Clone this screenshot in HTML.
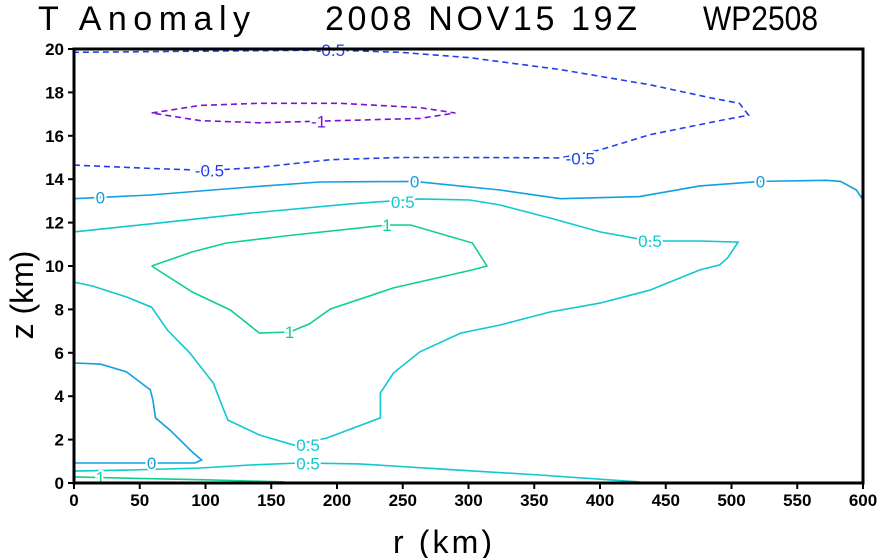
<!DOCTYPE html>
<html><head><meta charset="utf-8"><style>
html,body{margin:0;padding:0;background:#fff;width:879px;height:558px;overflow:hidden}
svg text{font-family:"Liberation Sans",sans-serif}
</style></head><body>
<svg id="chart" width="879" height="558" viewBox="0 0 879 558" xmlns="http://www.w3.org/2000/svg">
<g font-size="34" fill="#000">
<text x="38" y="30" textLength="212" lengthAdjust="spacing">T Anomaly</text>
<text x="325" y="30" textLength="312" lengthAdjust="spacing">2008 NOV15 19Z</text>
<text x="703" y="30" textLength="115" lengthAdjust="spacingAndGlyphs">WP2508</text>
</g>
<g id="contours"></g>
<g id="labels"></g>
<rect x="74" y="49" width="789" height="434" fill="none" stroke="#000" stroke-width="3"/>
<g id="axes" font-size="17" font-weight="bold" fill="#000"></g>
<text x="393" y="553" font-size="32" textLength="99" lengthAdjust="spacing">r (km)</text>
<text transform="translate(33,295) rotate(-90)" font-size="32" text-anchor="middle">z (km)</text>
</svg>
<script>
const xTicks=[0,50,100,150,200,250,300,350,400,450,500,550,600];
const yTicks=[0,2,4,6,8,10,12,14,16,18,20];
const levelNeg05=[[0,14.65],[58,14.5],[103,14.4],[141,14.55],[195,14.9],[248,15.0],[301,15.0],[370,14.98],[400,15.35],[438,16.05],[491,16.7],[513,16.95],[506,17.5],[484,17.75],[438,18.35],[370,19.05],[301,19.6],[248,19.85],[195,19.95],[96,19.9],[0,19.85]];
const levelNeg1=[[59,17.05],[96,17.4],[141,17.5],[202,17.5],[263,17.3],[290,17.05],[263,16.8],[202,16.7],[141,16.6],[96,16.7],[59,17.05]];
const level0Upper=[[0,13.1],[58,13.27],[134,13.64],[187,13.87],[259,13.9],[324,13.5],[370,13.1],[430,13.2],[476,13.69],[522,13.9],[572,13.95],[583,13.9],[595,13.5],[600,13.05]];
const level0Lower=[[0,5.53],[20,5.48],[40,5.12],[58,4.29],[60,3.82],[62,3.0],[73,2.44],[90,1.43],[97,1.06],[92,0.92],[58,0.92],[0,0.92]];
const level05Main=[[0,11.57],[58,11.94],[134,12.44],[210,12.86],[263,13.09],[301,13.04],[324,12.81],[362,12.21],[400,11.57],[438,11.15],[476,11.15],[505,11.1],[497,10.37],[491,10.05],[476,9.82],[438,8.89],[400,8.29],[362,7.88],[324,7.28],[294,6.91],[263,6.04],[243,5.07],[233,4.15],[233,3.0],[192,2.07],[167,1.75],[141,2.21],[117,2.9],[113,3.5],[106,4.6],[88,6.0],[71,7.05],[59,8.1],[40,8.57],[14,9.08],[0,9.26]];
const level05Low=[[0,0.55],[43,0.6],[96,0.69],[134,0.83],[172,0.92],[217,0.88],[278,0.65],[354,0.37],[430,0.05]];
const level1Upper=[[59,10.0],[90,10.65],[116,11.06],[167,11.43],[238,11.89],[256,11.89],[303,11.06],[314,10.0],[303,9.82],[243,8.99],[195,8.02],[179,7.33],[164,6.96],[141,6.91],[119,7.97],[111,8.2],[90,8.8],[59,10.0]];
const level1Low=[[0,0.28],[20,0.25],[96,0.15],[160,0.05]];
const labelText=["-0.5","-0.5","-0.5","-1","0","0","0","0","0.5","0.5","0.5","0.5","1","1","1"];
const labelPos=[[195,19.95],[103,14.4],[385,14.95],[186,16.65],[20,13.15],[259,13.9],[522,13.9],[59,0.92],[250,12.95],[438,11.15],[178,1.75],[178,0.9],[238,11.89],[164,6.96],[20,0.25]];
const labelColor=["#2040f0","#2040f0","#2040f0","#7a10d8","#10a0e0","#10a0e0","#10a0e0","#10a0e0","#10c8d0","#10c8d0","#10c8d0","#10c8d0","#10d090","#10d090","#10d090"];

const X0=74,X1=863,Y0=483,Y1=49;
const sx=r=>X0+(r-0)/(600-0)*(X1-X0);
const sy=z=>Y0-(z-0)/(20-0)*(Y0-Y1);
const NS="http://www.w3.org/2000/svg";
const cg=document.getElementById('contours');
function line(pts,color,dash,name){
  const p=document.createElementNS(NS,'polyline');
  p.setAttribute('points',pts.map(d=>sx(d[0]).toFixed(1)+','+sy(d[1]).toFixed(1)).join(' '));
  p.setAttribute('fill','none');p.setAttribute('stroke',color);p.setAttribute('stroke-width','1.6');
  if(dash)p.setAttribute('stroke-dasharray',dash);
  
  
  cg.appendChild(p);
}
line(levelNeg05,'#2040f0','6,4','contour-minus-0-5');
line(levelNeg1,'#7a10d8','6,4','contour-minus-1');
line(level0Upper,'#10a0e0',null,'contour-0-upper');
line(level0Lower,'#10a0e0',null,'contour-0-lower');
line(level05Main,'#10c8d0',null,'contour-0-5-main');
line(level05Low,'#10c8d0',null,'contour-0-5-low');
line(level1Upper,'#10d090',null,'contour-1-upper');
line(level1Low,'#10d090',null,'contour-1-low');
const lg=document.getElementById('labels');
labelText.forEach((t,i)=>{
  const e=document.createElementNS(NS,'text');
  e.setAttribute('x',sx(labelPos[i][0]));e.setAttribute('y',sy(labelPos[i][1])+6);
  e.setAttribute('text-anchor','middle');e.setAttribute('font-size','17');
  e.setAttribute('fill',labelColor[i]);e.setAttribute('stroke','#fff');e.setAttribute('stroke-width','4');
  e.setAttribute('paint-order','stroke');
  e.textContent=t;
  
  
  lg.appendChild(e);
});
const ag=document.getElementById('axes');
xTicks.forEach(v=>{
  const l=document.createElementNS(NS,'line');
  l.setAttribute('x1',sx(v));l.setAttribute('x2',sx(v));l.setAttribute('y1',Y0);l.setAttribute('y2',Y0+6);
  l.setAttribute('stroke','#000');l.setAttribute('stroke-width','2');
  
  
  ag.appendChild(l);
  const t=document.createElementNS(NS,'text');
  t.setAttribute('x',sx(v));t.setAttribute('y',Y0+23);t.setAttribute('text-anchor','middle');
  t.textContent=v;
  
  
  ag.appendChild(t);
});
yTicks.forEach(v=>{
  const l=document.createElementNS(NS,'line');
  l.setAttribute('x1',X0-6);l.setAttribute('x2',X0);l.setAttribute('y1',sy(v));l.setAttribute('y2',sy(v));
  l.setAttribute('stroke','#000');l.setAttribute('stroke-width','2');
  
  
  ag.appendChild(l);
  const t=document.createElementNS(NS,'text');
  t.setAttribute('x',X0-10);t.setAttribute('y',sy(v)+6);t.setAttribute('text-anchor','end');
  t.textContent=v;
  
  
  ag.appendChild(t);
});
</script>
</body></html>
